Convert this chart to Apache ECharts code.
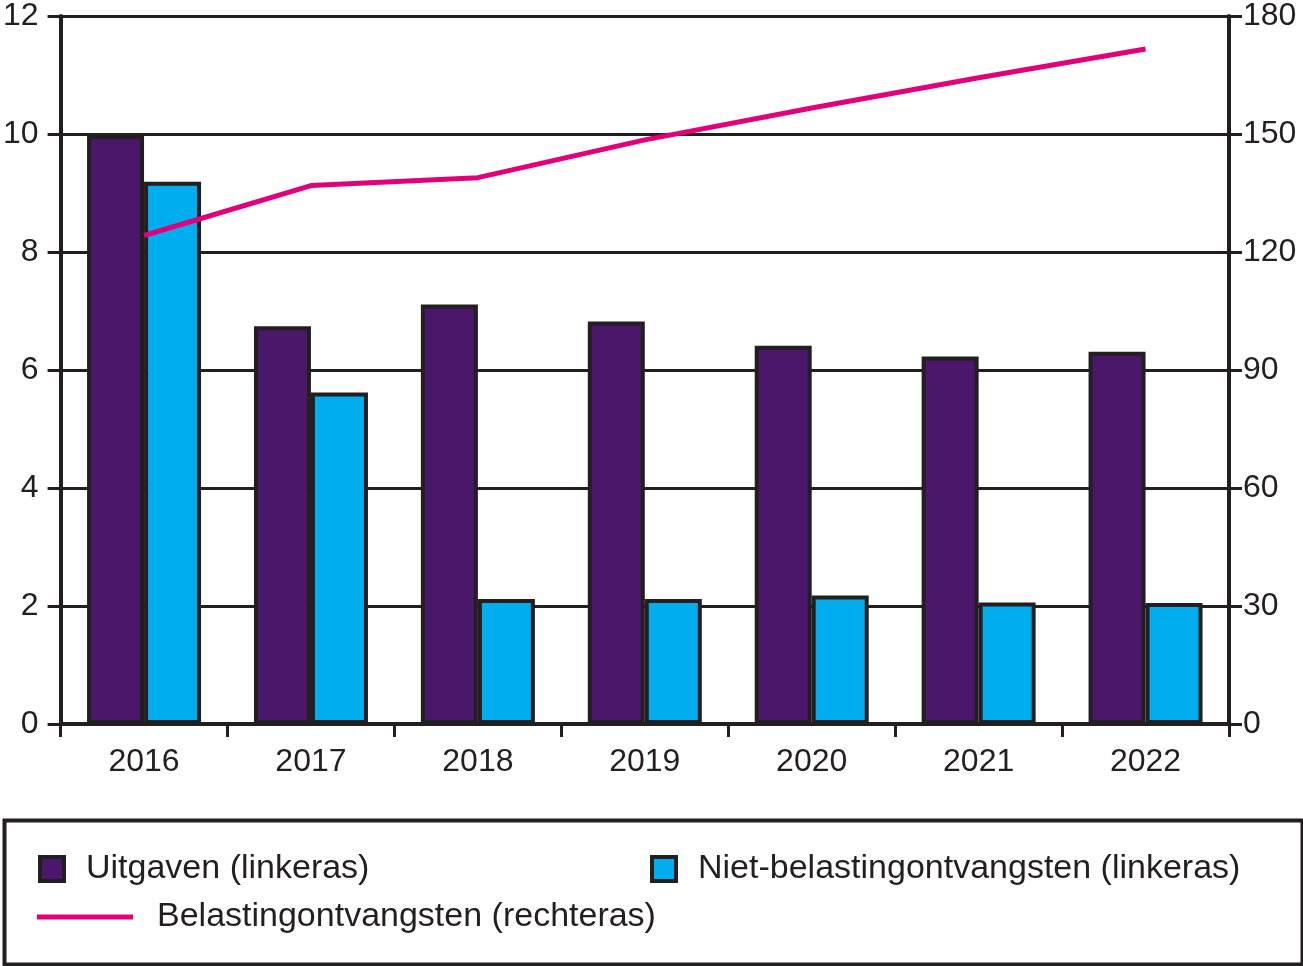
<!DOCTYPE html>
<html>
<head>
<meta charset="utf-8">
<script src="https://cdn.jsdelivr.net/npm/echarts@6/dist/echarts.min.js"></script>
<style>html,body{margin:0;padding:0;background:#fff}#c{width:1303px;height:966px}</style>
</head>
<body>
<div id="c"></div>
<script>
const categories = ['2016','2017','2018','2019','2020','2021','2022'];
const uitgaven = [9.98, 6.74, 7.11, 6.82, 6.41, 6.23, 6.31];
const nietBelasting = [9.19, 5.62, 2.12, 2.12, 2.18, 2.06, 2.05];
const belasting = [124.2, 136.9, 138.9, 148.5, 156.6, 164.3, 171.6];
const leftTicks = {min: 0, max: 12, interval: 2};
const rightTicks = {min: 0, max: 180, interval: 30};
const names = ['Uitgaven (linkeras)', 'Niet-belastingontvangsten (linkeras)', 'Belastingontvangsten (rechteras)'];

const dark = '#231f20';
const font = '"Liberation Sans", Arial, sans-serif';
const chart = echarts.init(document.getElementById('c'));
const legendText = {fontFamily: font, fontSize: 34, color: dark};
chart.setOption({
  animation: false,
  grid: {left: 60, right: 74, top: 15, bottom: 242, containLabel: false},
  graphic: [{
    type: 'rect', left: 2, top: 818, z: -1,
    shape: {width: 1298, height: 144},
    style: {fill: 'none', stroke: dark, lineWidth: 4}
  }],
  legend: [
    {data: [{name: names[0], icon: 'rect'}], left: 38, top: 852, padding: 0, itemWidth: 24, itemHeight: 24,
     itemStyle: {borderColor: dark, borderWidth: 4},
     textStyle: Object.assign({padding: [0, 0, 0, 17]}, legendText)},
    {data: [{name: names[1], icon: 'rect'}], left: 650, top: 852, padding: 0, itemWidth: 24, itemHeight: 24,
     itemStyle: {borderColor: dark, borderWidth: 4},
     textStyle: Object.assign({padding: [0, 0, 0, 17]}, legendText)},
    {data: [{name: names[2], icon: 'rect'}], left: 37, top: 900, padding: 0, itemWidth: 96, itemHeight: 5,
     textStyle: Object.assign({padding: [0, 0, 0, 19]}, legendText)}
  ],
  xAxis: {
    type: 'category', data: categories, boundaryGap: true,
    axisLine: {lineStyle: {color: dark, width: 4}},
    axisTick: {show: true, length: 13, lineStyle: {color: dark, width: 3}},
    axisLabel: {fontFamily: font, fontSize: 32, color: dark, margin: 22}
  },
  yAxis: [
    Object.assign({type: 'value', position: 'left',
      axisLine: {show: true, lineStyle: {color: dark, width: 4}},
      axisTick: {show: true, length: 13, lineStyle: {color: dark, width: 3}},
      axisLabel: {fontFamily: font, fontSize: 32, color: dark, margin: 22},
      splitLine: {show: true, lineStyle: {color: dark, width: 3}}}, leftTicks),
    Object.assign({type: 'value', position: 'right',
      axisLine: {show: true, lineStyle: {color: dark, width: 4}},
      axisTick: {show: true, length: 13, lineStyle: {color: dark, width: 3}},
      axisLabel: {fontFamily: font, fontSize: 32, color: dark, margin: 14},
      splitLine: {show: false}}, rightTicks)
  ],
  series: [
    {name: names[0], type: 'bar', data: uitgaven, yAxisIndex: 0, barWidth: 57, barGap: '0%',
     itemStyle: {color: '#4a176b', borderColor: dark, borderWidth: 4}},
    {name: names[1], type: 'bar', data: nietBelasting, yAxisIndex: 0, barWidth: 57, barGap: '0%',
     itemStyle: {color: '#00adef', borderColor: dark, borderWidth: 4}},
    {name: names[2], type: 'line', data: belasting, yAxisIndex: 1, symbol: 'none', z: 5,
     lineStyle: {color: '#e2007a', width: 5}, itemStyle: {color: '#e2007a'}}
  ]
});
</script>
</body>
</html>
